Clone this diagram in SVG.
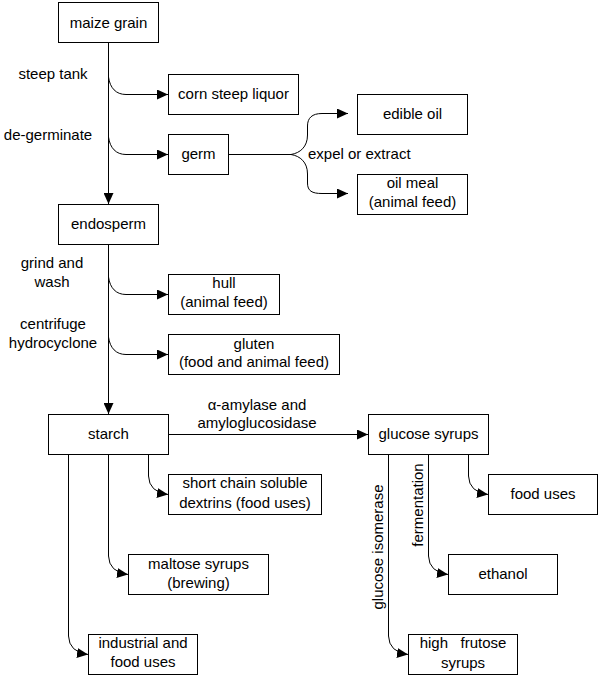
<svg xmlns="http://www.w3.org/2000/svg" width="598" height="676" viewBox="0 0 598 676">
<style>
rect{fill:#fff;stroke:#000;stroke-width:1}
text{font-family:"Liberation Sans",Arial,sans-serif;font-size:15px;fill:#000}
.c{text-anchor:middle}
.con path{fill:none;stroke:#000;stroke-width:1;marker-end:url(#ah)}
.con path.n{marker-end:none}
</style>
<defs>
<marker id="ah" markerUnits="userSpaceOnUse" markerWidth="12" markerHeight="10" refX="11" refY="5" orient="auto">
<path d="M0,0 L11,5 L0,10 z" fill="#000"/>
</marker>
</defs>
<rect width="598" height="676" style="stroke:none"/>
<g id="connectors" class="con">
<path d="M108.5,42.5 V204"/>
<path d="M108.5,77 C110,88 116,94.5 126,94.5 H168"/>
<path d="M108.5,137 C110,148 116,154.5 126,154.5 H168"/>
<path class="n" d="M228.5,154.5 H291"/>
<path d="M291,154.5 C300,153 307.5,147 307.5,135 V126 C307.5,118 312,113.5 322,113.5 H348"/>
<path d="M291,154.5 C300,156 307.5,162 307.5,174 V183 C307.5,191 312,193.5 322,193.5 H348"/>
<path d="M108.5,244.5 V414"/>
<path d="M108.5,277 C110,288 116,294.5 126,294.5 H168"/>
<path d="M108.5,337 C110,348 116,354.5 126,354.5 H168"/>
<path d="M168.5,434.5 H368"/>
<path d="M148.5,454.5 V476 Q149,492 168,494.5"/>
<path d="M108.5,454.5 V556 Q109,572 128,574.5"/>
<path d="M68.5,454.5 V636 Q69,652 88,654.5"/>
<path d="M468.5,454.5 V476 Q469,492 488,494.5"/>
<path d="M428.5,454.5 V556 Q429,572 448,574.5"/>
<path d="M388.5,454.5 V636 Q389,652 408,654.5"/>
</g>
<g id="labels">
<text x="53" y="79" class="c">steep tank</text>
<text x="48" y="140" class="c">de-germinate</text>
<text x="308" y="159">expel or extract</text>
<text x="52" y="268" class="c">grind and</text>
<text x="52" y="287" class="c">wash</text>
<text x="53" y="329" class="c">centrifuge</text>
<text x="53" y="348" class="c">hydrocyclone</text>
<text x="257" y="410" class="c">α-amylase and</text>
<text x="257" y="428" class="c">amyloglucosidase</text>
<text transform="translate(378,547) rotate(-90)" y="5" class="c">glucose isomerase</text>
<text transform="translate(418,505) rotate(-90)" y="5" class="c">fermentation</text>
</g>
<g id="maize"><rect x="58.5" y="2.5" width="100" height="40"/><text x="108.5" y="28" class="c">maize grain</text></g>
<g id="cornsteep"><rect x="168.5" y="74.5" width="130" height="40"/><text x="233.5" y="99" class="c">corn steep liquor</text></g>
<g id="germ"><rect x="168.5" y="134.5" width="60" height="40"/><text x="198.5" y="159" class="c">germ</text></g>
<g id="edibleoil"><rect x="357.5" y="94.5" width="110" height="40"/><text x="412.5" y="119" class="c">edible oil</text></g>
<g id="oilmeal"><rect x="357.5" y="174.5" width="110" height="40"/><text x="412.5" y="188" class="c">oil meal</text><text x="412.5" y="207" class="c">(animal feed)</text></g>
<g id="endosperm"><rect x="58.5" y="204.5" width="100" height="40"/><text x="108.5" y="229" class="c">endosperm</text></g>
<g id="hull"><rect x="168.5" y="274.5" width="111" height="40"/><text x="224" y="288" class="c">hull</text><text x="224" y="307" class="c">(animal feed)</text></g>
<g id="gluten"><rect x="168.5" y="334.5" width="171" height="40"/><text x="254" y="349" class="c">gluten</text><text x="254" y="367" class="c">(food and animal feed)</text></g>
<g id="starch"><rect x="48.5" y="414.5" width="120" height="40"/><text x="108.5" y="439" class="c">starch</text></g>
<g id="glucose"><rect x="368.5" y="414.5" width="120" height="40"/><text x="428.5" y="439" class="c">glucose syrups</text></g>
<g id="dextrins"><rect x="168.5" y="474.5" width="153" height="40"/><text x="245" y="488" class="c">short chain soluble</text><text x="245" y="508" class="c">dextrins (food uses)</text></g>
<g id="maltose"><rect x="128.5" y="554.5" width="140" height="40"/><text x="198.5" y="569" class="c">maltose syrups</text><text x="198.5" y="588" class="c">(brewing)</text></g>
<g id="industrial"><rect x="88.5" y="634.5" width="109" height="40"/><text x="143" y="648" class="c">industrial and</text><text x="143" y="667" class="c">food uses</text></g>
<g id="fooduses"><rect x="488.5" y="474.5" width="109" height="40"/><text x="543" y="499" class="c">food uses</text></g>
<g id="ethanol"><rect x="448.5" y="554.5" width="109" height="40"/><text x="503" y="579" class="c">ethanol</text></g>
<g id="hfs"><rect x="408.5" y="634.5" width="109" height="40"/><text x="463" y="648" class="c" xml:space="preserve">high   frutose</text><text x="463" y="668" class="c">syrups</text></g>
</svg>
